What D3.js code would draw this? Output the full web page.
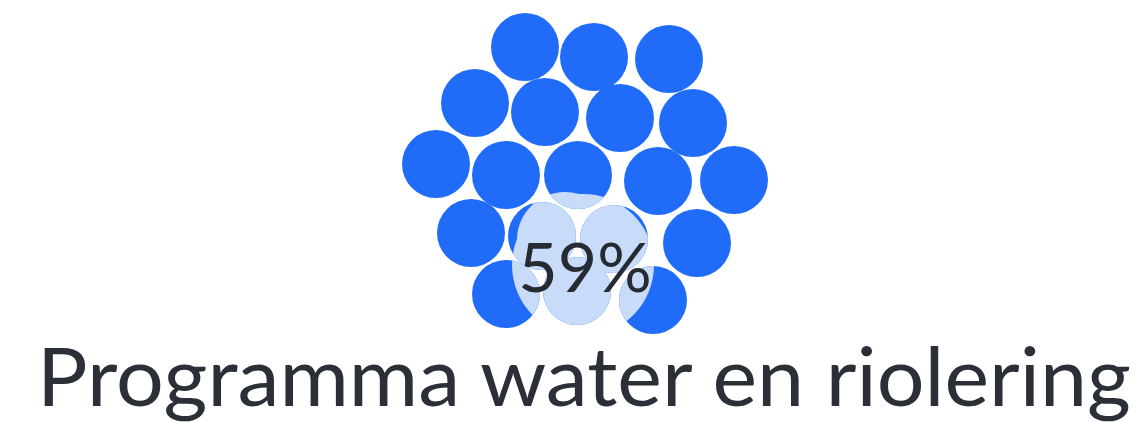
<!DOCTYPE html>
<html>
<head>
<meta charset="utf-8">
<script src="https://cdn.jsdelivr.net/npm/d3@7/dist/d3.min.js"></script>
<style>
  html, body { margin: 0; padding: 0; background: #ffffff; }
  svg { display: block; }
</style>
</head>
<body>
<svg id="chart" width="1142" height="422"></svg>
<script>
// ---- data ----
const title = "Programma water en riolering";
const percentValue = 59;
// bubble positions in cluster units (offset from cluster centre)
const bubbleX = [-60, 9, 84, -110, -40, 35, 108, -149, -79, -7, 73, 149, -114, -43, 29, 112, -79, -8, 68];
const bubbleY = [-128, -118, -116, -72, -63, -57, -52, -11, 0, 0, 6, 5, 58, 61, 64, 68, 119, 116, 125];
const bubbleR = 34;
// highlight zone (cluster units)
const highlightX = [-20, -2];
const highlightY = [65, 90];
const highlightR = [48, 71];

// ---- layout ----
const W = 1142, H = 422;
const cx = 585, cy = 175;
const x = d3.scaleLinear().domain([-200, 200]).range([cx - 200, cx + 200]);
const y = d3.scaleLinear().domain([-200, 200]).range([cy - 200, cy + 200]);
const rs = d3.scaleLinear().domain([0, 100]).range([0, 100]);

const svg = d3.select("#chart");
const defs = svg.append("defs");
const clip = defs.append("clipPath").attr("id", "hl");
clip.selectAll("circle").data(highlightX).join("circle")
  .attr("cx", (d, i) => x(d))
  .attr("cy", (d, i) => y(highlightY[i]))
  .attr("r", (d, i) => rs(highlightR[i]));

const bubbles = bubbleX.map((d, i) => ({ x: d, y: bubbleY[i] }));

svg.append("g").selectAll("circle").data(bubbles).join("circle")
  .attr("cx", d => x(d.x))
  .attr("cy", d => y(d.y))
  .attr("r", rs(bubbleR))
  .attr("fill", "#206cf9");

svg.append("g").attr("clip-path", "url(#hl)")
  .selectAll("circle").data(bubbles).join("circle")
  .attr("cx", d => x(d.x))
  .attr("cy", d => y(d.y))
  .attr("r", rs(bubbleR))
  .attr("fill", "#c8dbf8");

svg.append("text")
  .attr("x", 585).attr("y", 292)
  .attr("text-anchor", "middle")
  .attr("font-family", "Lato, 'Noto Sans', sans-serif")
  .attr("font-size", 68)
  .attr("fill", "#262a33")
  .text(d3.format("d")(percentValue) + "%");

svg.append("text")
  .attr("x", 37).attr("y", 406)
  .attr("font-family", "Lato, 'Noto Sans', sans-serif")
  .attr("font-size", 82)
  .attr("fill", "#2b2f38")
  .attr("textLength", 1094)
  .attr("lengthAdjust", "spacingAndGlyphs")
  .text(title);
</script>
</body>
</html>
